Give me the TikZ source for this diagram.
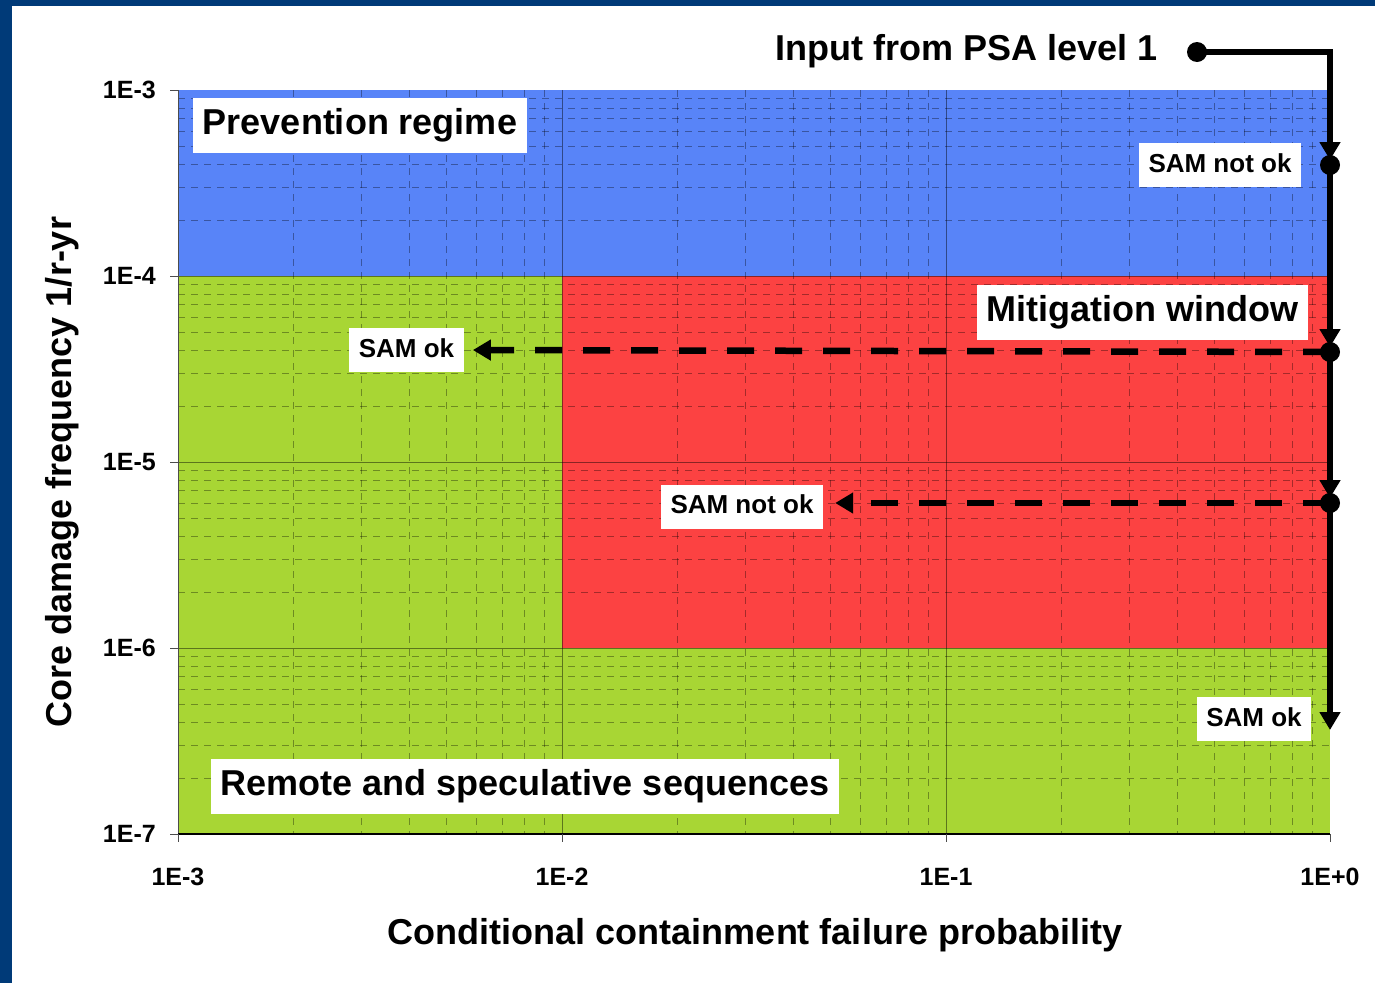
\documentclass[tikz,border=0pt]{standalone}
\usepackage{fontspec}
\setmainfont{Liberation Sans}
\usepackage{xcolor}
\usetikzlibrary{arrows.meta,positioning}
\definecolor{frameblue}{RGB}{0,58,120}
\definecolor{preventblue}{RGB}{88,132,248}
\definecolor{remotegreen}{RGB}{168,214,52}
\definecolor{mitigred}{RGB}{252,66,66}

\begin{document}
\begin{tikzpicture}[
    x=1pt, y=-1pt,
    major/.style={black, opacity=0.45, line width=0.9pt},
    minor/.style={black, opacity=0.35, line width=0.9pt, dash pattern=on 7pt off 6pt},
    bigtag/.style={fill=white, font=\fontsize{36}{40}\selectfont\bfseries, inner xsep=10pt, inner ysep=11pt, text height=26pt, text depth=7.5pt},
    samtag/.style={fill=white, font=\fontsize{26}{30}\selectfont\bfseries, inner xsep=9.5pt, inner ysep=10pt, text height=19pt, text depth=5pt},
    ticklabel/.style={font=\fontsize{25}{28}\selectfont\bfseries, inner sep=0pt},
    axistitle/.style={font=\fontsize{36}{40}\selectfont\bfseries, inner sep=0pt},
    flow/.style={-{Triangle[length=18pt,width=20pt]}, line width=6.5pt},
    jump/.style={flow, dash pattern=on 27pt off 21pt},
    dot/.style={circle, fill=black, minimum size=20pt, inner sep=0pt}
]
    \useasboundingbox (0,0) rectangle (1375,983);
    \fill[white] (0,0) rectangle (1375,983);
    \fill[frameblue] (0,0) rectangle (12,983);
    \fill[frameblue] (0,0) rectangle (1375,6);

    % regions
    \fill[preventblue] (178,90) rectangle (1330,276);
    \fill[remotegreen] (178,276) rectangle (562,648);
    \fill[remotegreen] (178,648) rectangle (1330,834);
    \fill[mitigred] (562,276) rectangle (1330,648);

    % grid
    \foreach \d in {0,1,2}
        \foreach \k in {2,...,9}
            \draw[minor] ({178+384*\d+384*log10(\k)},90) -- ++(0,744);
    \foreach \d in {0,...,3}
        \foreach \k in {2,...,9}
            \draw[minor] (178,{276+186*\d-186*log10(\k)}) -- ++(1152,0);
    \foreach \x in {562,946}
        \draw[major] (\x,90) -- (\x,834);
    \foreach \y in {276,462,648}
        \draw[major] (178,\y) -- (1330,\y);

    % axes
    \draw[black!70, line width=1pt] (178,90) -- (178,834);
    \draw[black, line width=1.5pt] (178,834) -- (1330,834);
    \foreach \y in {90,276,462,648,834}
        \draw[black!70, line width=1pt] (170,\y) -- (178,\y);
    \foreach \x in {178,562,946,1330}
        \draw[black!70, line width=1pt] (\x,834) -- (\x,842);

    \foreach \e [count=\i from 0] in {3,4,5,6,7}
        \node[ticklabel, anchor=east] (ytick\e) at (156,{90+186*\i}) {1E-\e};
    \foreach \lab [count=\i from 0] in {1E-3,1E-2,1E-1,1E+0}
        \node[ticklabel] (xtick\i) at ({178+384*\i},877) {\lab};

    \node[axistitle] (xtitle) at (755,935) {Conditional containment failure probability};
    \node[axistitle, rotate=90] (ytitle) at (62,472) {Core damage frequency 1/r-yr};

    % region labels
    \node[bigtag] (prevent) at (360,125.5) {Prevention regime};
    \node[bigtag] (mitig) at (1142.5,312.5) {Mitigation window};
    \node[bigtag] (remote) at (525,786.5) {Remote and speculative sequences};

    \node[samtag] (notokA) at (1220,165) {SAM not ok};
    \node[samtag] (okA) at (406.5,350) {SAM ok};
    \node[samtag] (notokB) at (742,506.5) {SAM not ok};
    \node[samtag] (okB) at (1254,719) {SAM ok};

    % decision path
    \node[axistitle, anchor=east] (input) at (1158,51) {Input from PSA level 1};
    \node[dot] (src) at (1197,52) {};
    \node[dot] (d1) at (1330,165) {};
    \node[dot] (d2) at (1330,352) {};
    \node[dot] (d3) at (1330,503) {};
    \coordinate (sink) at (1330,730);

    \draw[flow, shorten >=5pt] (src.center) -| (d1.center);
    \draw[flow, shorten >=5pt] (d1.center) -- (d2.center);
    \draw[flow, shorten >=5pt] (d2.center) -- (d3.center);
    \draw[flow] (d3.center) -- (sink);

    \draw[jump, shorten >=9pt] (d2.center) -- (okA.east);
    \draw[jump, shorten >=12pt] (d3.center) -- (notokB.east |- d3);
\end{tikzpicture}
\end{document}
